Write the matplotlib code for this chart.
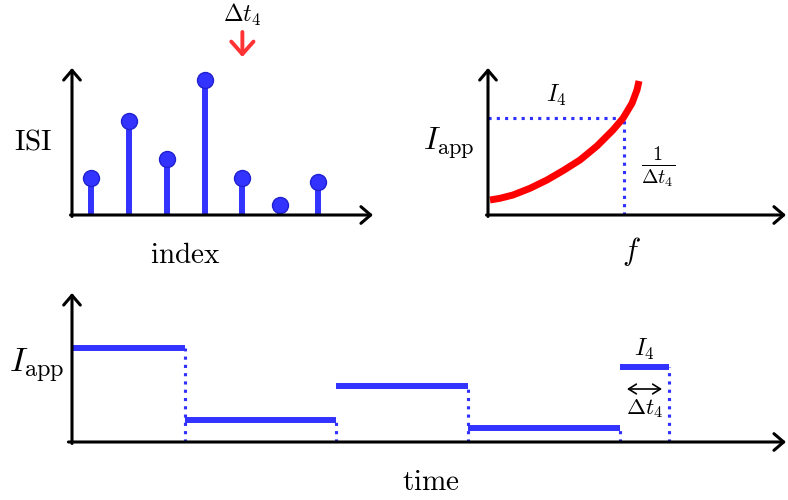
import numpy as np
import matplotlib
matplotlib.use("Agg")
from matplotlib import pyplot as plt

plt.rcParams['mathtext.fontset'] = 'cm'

# Data
isi_index = [1, 2, 3, 4, 5, 6, 7]
isi_values = [37, 94, 56, 135, 37, 10, 33]
marked_index = 5

fi_f = [2, 12, 25, 42, 59, 75, 92, 109, 125, 135, 144, 149, 151]
fi_I = [15, 16.7, 20, 26.7, 35, 44.3, 55, 69, 85, 96.7, 111.7, 125, 134]
f4 = 136
I4 = 97

step_edges = [0, 113, 264, 396, 548, 597]
step_levels = [94, 22, 56, 14, 75]

blue = '#3333ff'
dot_blue = '#3030ff'
red = '#ff0000'
W, H = 788, 500


def px_axes(fig, x0, x1, ytop, ybot):
    return fig.add_axes([x0 / W, 1 - ybot / H, (x1 - x0) / W, (ybot - ytop) / H])


def arrow_axes(ax):
    for s in ax.spines.values():
        s.set_visible(False)
    ax.set_xticks([])
    ax.set_yticks([])
    ax.patch.set_visible(False)
    props = dict(arrowstyle='->,head_length=0.35,head_width=0.3', lw=2.2,
                 color='black', shrinkA=0, shrinkB=0, mutation_scale=20)
    ax.annotate('', xy=(1, 0), xytext=(-0.005, 0), xycoords='axes fraction',
                arrowprops=props, annotation_clip=False)
    ax.annotate('', xy=(0, 1), xytext=(0, -0.01), xycoords='axes fraction',
                arrowprops=props, annotation_clip=False)


fig = plt.figure(figsize=(7.88, 5.0), dpi=100)

# Top left: ISI stem plot
ax1 = px_axes(fig, 72, 373, 68, 215)
ax1.vlines(isi_index, 0, isi_values, color=blue, lw=4.3, zorder=2)
ax1.plot(isi_index, isi_values, 'o', ms=11.5, mfc=blue, mec='#2020d0',
         mew=1, zorder=3, clip_on=False)
ax1.set_xlim(0.5, 8.45)
ax1.set_ylim(0, 147)
arrow_axes(ax1)
ax1.annotate('', xy=(marked_index, 158), xytext=(marked_index, 183),
             arrowprops=dict(arrowstyle='->,head_length=0.45,head_width=0.4',
                             lw=2.8, color='#ff3333', shrinkA=0, shrinkB=0,
                             mutation_scale=20),
             annotation_clip=False)
ax1.text(marked_index, 200, r'$\Delta t_4$', fontsize=17, ha='center',
         va='center')
ax1.text(-0.53, 73, r'$\mathrm{ISI}$', fontsize=21, ha='center', va='center')
ax1.text(3.48, -40, r'$\mathrm{index}$', fontsize=21, ha='center',
         va='center')

# Top right: f-I curve
ax2 = px_axes(fig, 488, 786, 68, 215)
ax2.plot(fi_f, fi_I, color=red, lw=5, solid_capstyle='butt',
         solid_joinstyle='round', clip_on=False, zorder=3)
ax2.plot([0, f4], [I4, I4], ':', color=dot_blue, lw=2.25, zorder=2)
ax2.plot([f4, f4], [0, I4], ':', color=dot_blue, lw=2.25, zorder=2)
ax2.set_xlim(0, 298)
ax2.set_ylim(0, 147)
arrow_axes(ax2)
ax2.text(68, 120, r'$I_4$', fontsize=17.5, ha='center', va='center')
ax2.text(170, 48, r'$\frac{1}{\Delta t_4}$', fontsize=20.5, ha='center',
         va='center')
ax2.text(-39, 72, r'$I_{\rm app}$', fontsize=23, ha='center', va='center')
ax2.text(143, -37, r'$f$', fontsize=22, ha='center', va='center')

# Bottom: applied current steps
ax3 = px_axes(fig, 72, 786, 293, 442)
ax3.hlines(step_levels, step_edges[:-1], step_edges[1:], color=blue, lw=4.3)
ax3.vlines(step_edges[1:], 0, step_levels, color=dot_blue, lw=2.25,
           linestyles=':')
ax3.set_xlim(0, 714)
ax3.set_ylim(0, 149)
arrow_axes(ax3)
t4_mid = (step_edges[-2] + step_edges[-1]) / 2
ax3.text(t4_mid, 93, r'$I_4$', fontsize=17.5, ha='center', va='center')
ax3.annotate('', xy=(step_edges[-2] + 7, 53), xytext=(step_edges[-1] - 7, 53),
             arrowprops=dict(arrowstyle='<->,head_length=0.4,head_width=0.25',
                             lw=1.2, color='black', shrinkA=0, shrinkB=0,
                             mutation_scale=14))
ax3.text(t4_mid, 33, r'$\Delta t_4$', fontsize=16.5, ha='center', va='center')
ax3.text(-35, 76, r'$I_{\rm app}$', fontsize=25, ha='center', va='center')
ax3.text(359, -40, r'$\mathrm{time}$', fontsize=21, ha='center', va='center')

fig.savefig('out.png', dpi=100)
